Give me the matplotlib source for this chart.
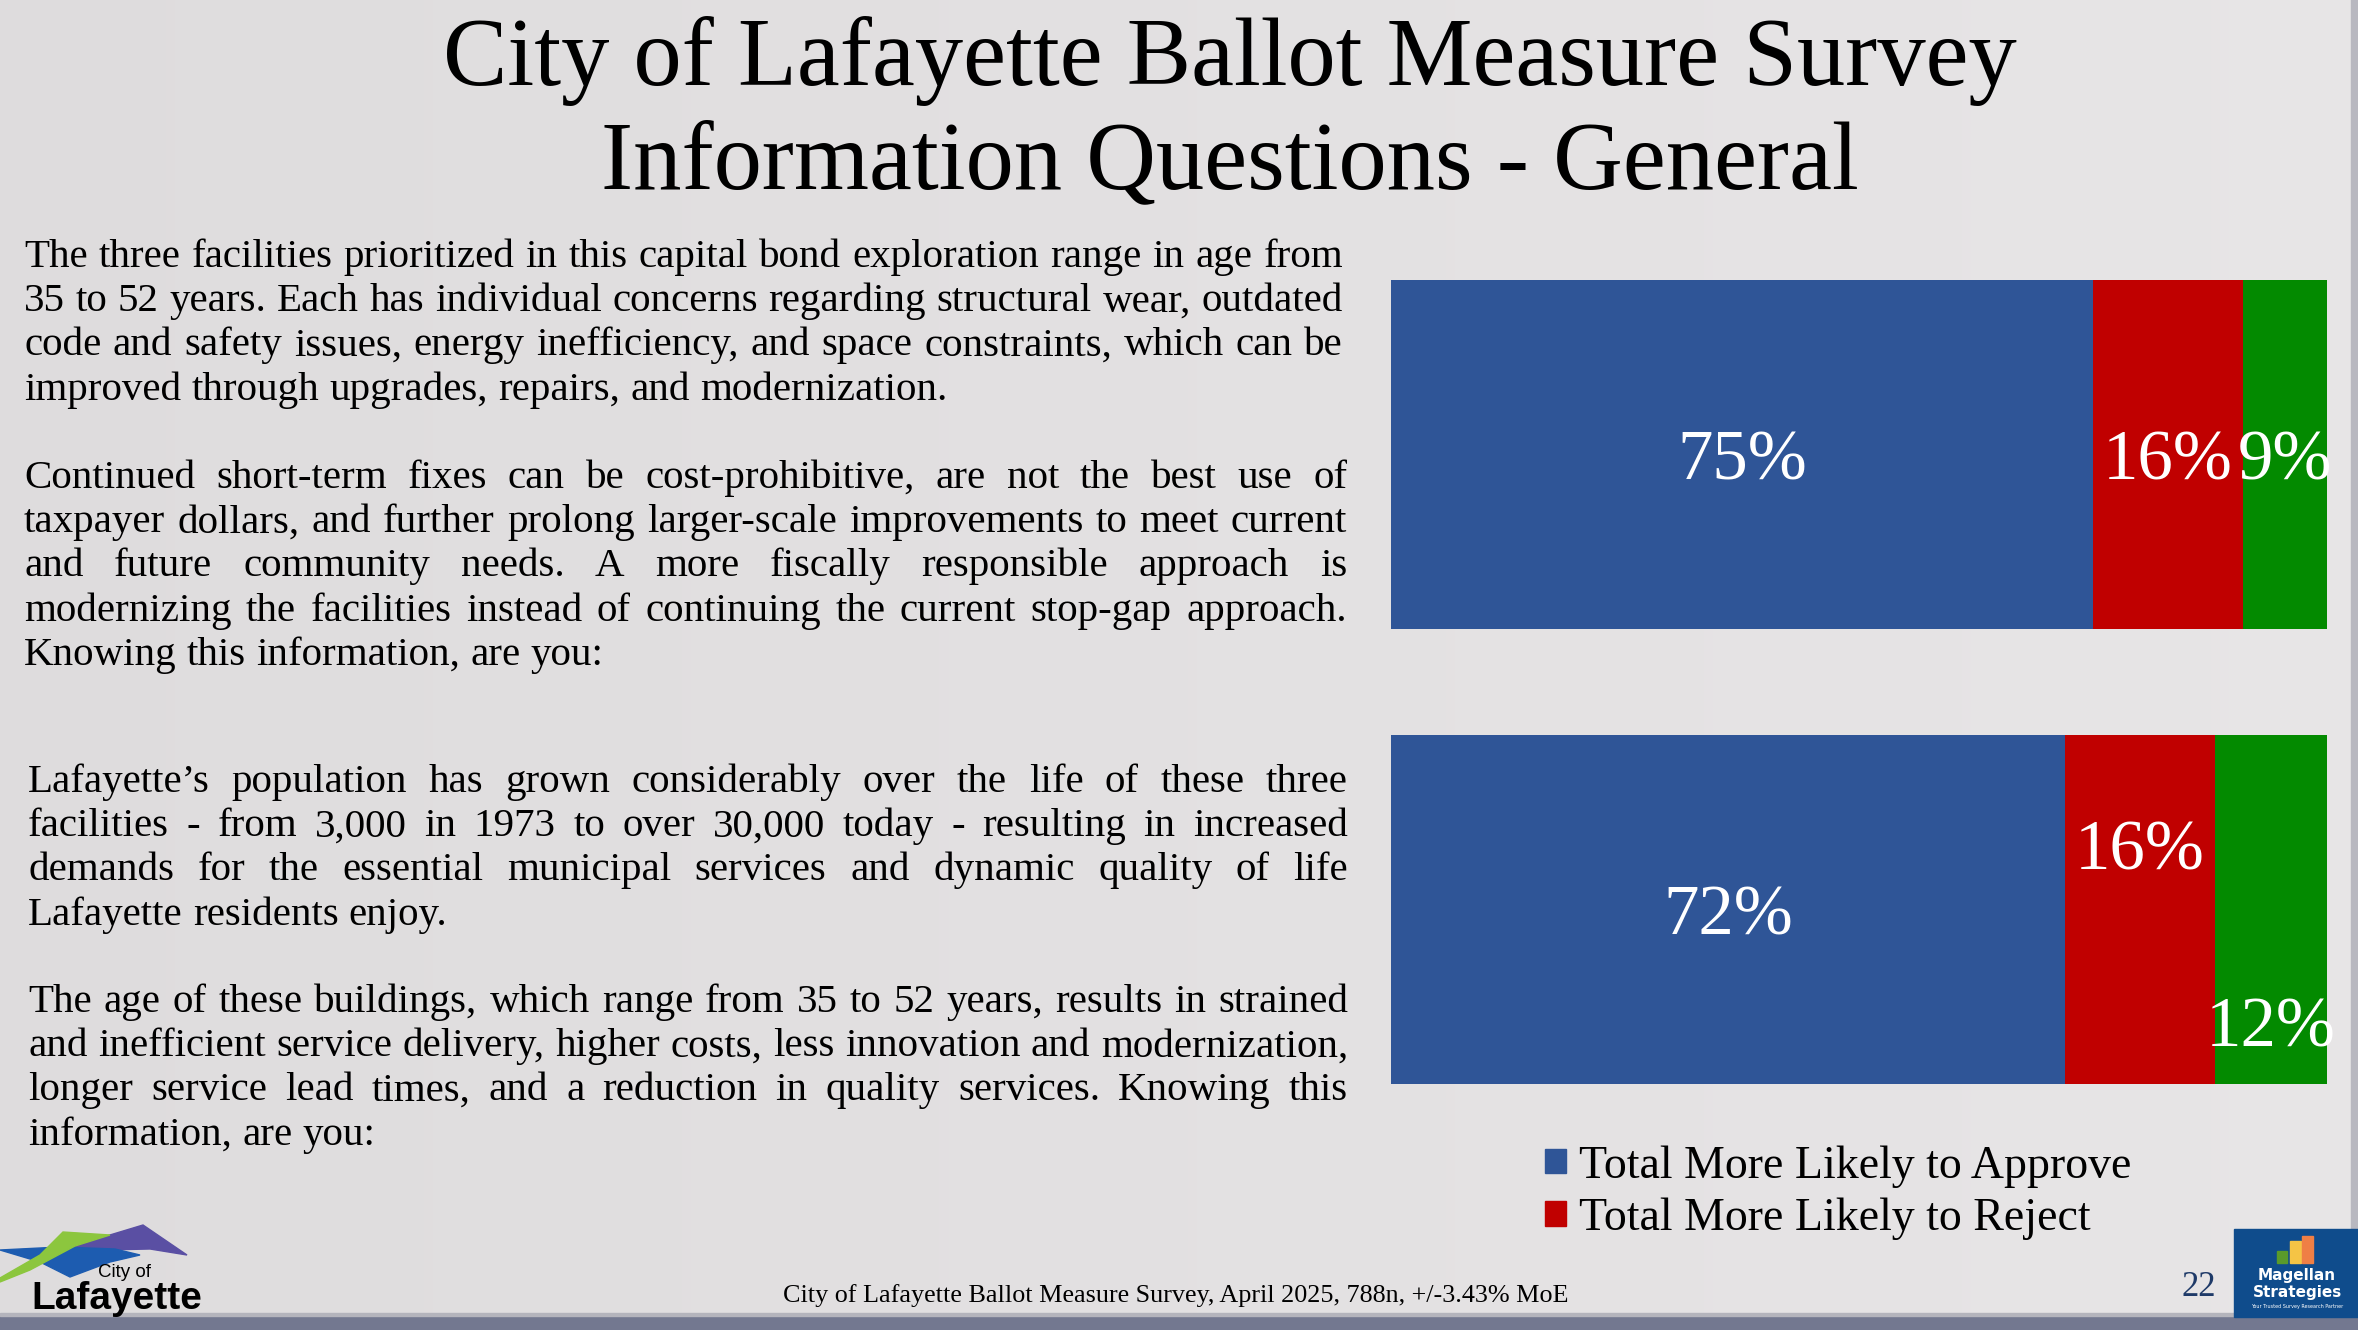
import matplotlib
matplotlib.use('Agg')
import matplotlib.pyplot as plt
from matplotlib.patches import Patch, Rectangle, Polygon
import numpy as np

# ---- data ----
questions = ['Facilities / stop-gap fixes', 'Population growth / building age']
approve = [75, 72]
reject = [16, 16]
neutral = [9, 12]
series_names = ['Total More Likely to Approve', 'Total More Likely to Reject', 'No Difference / Unsure']

title_lines = ['City of Lafayette Ballot Measure Survey',
               'Information Questions - General']

paragraphs = [
    ["The three facilities prioritized in this capital bond exploration range in age from",
     "35 to 52 years. Each has individual concerns regarding structural wear, outdated",
     "code and safety issues, energy inefficiency, and space constraints, which can be",
     "improved through upgrades, repairs, and modernization."],
    ["Continued short-term fixes can be cost-prohibitive, are not the best use of",
     "taxpayer dollars, and further prolong larger-scale improvements to meet current",
     "and future community needs. A more fiscally responsible approach is",
     "modernizing the facilities instead of continuing the current stop-gap approach.",
     "Knowing this information, are you:"],
    ["Lafayette\u2019s population has grown considerably over the life of these three",
     "facilities - from 3,000 in 1973 to over 30,000 today - resulting in increased",
     "demands for the essential municipal services and dynamic quality of life",
     "Lafayette residents enjoy."],
    ["The age of these buildings, which range from 35 to 52 years, results in strained",
     "and inefficient service delivery, higher costs, less innovation and modernization,",
     "longer service lead times, and a reduction in quality services. Knowing this",
     "information, are you:"],
]
footnote = 'City of Lafayette Ballot Measure Survey, April 2025, 788n, +/-3.43% MoE'
page_number = '22'

# ---- layout ----
W, H = 2358, 1330
SERIF = 'Liberation Serif'
BLUE, RED, GREEN = '#2F5597', '#C00000', '#038A00'

fig = plt.figure(figsize=(W / 100, H / 100), dpi=100)


def fx(px):
    return px / W


def fy(py):
    return 1 - py / H


# background
bg = fig.add_axes([0, 0, 1, 1], zorder=-10)
bg.axis('off')
bg.set_xlim(0, 1)
bg.set_ylim(0, 1)
grad = np.linspace(0, 1, 256)
c0 = np.array([0.872, 0.864, 0.868])
c1 = np.array([0.908, 0.900, 0.904])
img = c0[None, :, None] * (1 - grad[None, None, :]) + c1[None, :, None] * grad[None, None, :]
img = np.transpose(img, (0, 2, 1))
bg.imshow(img, extent=[0, 1, 0, 1], aspect='auto', zorder=0)
bg.add_patch(Rectangle((0, 0), 1, 14 / H, color='#737890', zorder=1))
bg.add_patch(Rectangle((0, 14 / H), 1, 3 / H, color='#b4b4bc', zorder=1))
bg.add_patch(Rectangle((fx(2351), 14 / H), 7 / W, 1, color='#b8b8c0', zorder=1))

# title
for ln, base in zip(title_lines, [85, 188]):
    fig.text(fx(1230), fy(base), ln, ha='center', va='baseline',
             fontsize=69.5, family=SERIF, color='black')

# justified body text
renderer = fig.canvas.get_renderer()
body_size = 29.5
space_px = body_size * 100 / 72 * 0.25
para_pos = [(24, 1343, 267), (24, 1347, 488), (28, 1348, 792), (28, 1348, 1012)]
line_step = 44.2
for lines, (x0, x1, y0) in zip(paragraphs, para_pos):
    for i, ln in enumerate(lines):
        words = ln.split()
        texts = [fig.text(0, 0, w, fontsize=body_size, family=SERIF,
                          ha='left', va='baseline') for w in words]
        widths = [t.get_window_extent(renderer).width for t in texts]
        last = (i == len(lines) - 1)
        if last or len(words) == 1:
            gap = space_px
        else:
            gap = (x1 - x0 - sum(widths)) / (len(words) - 1)
        x = x0
        y = y0 + i * line_step
        for t, w in zip(texts, widths):
            t.set_position((fx(x), fy(y)))
            x += w + gap

# bar chart
ax = fig.add_axes([fx(1391), fy(1084), (2327 - 1391) / W, (1084 - 280) / H])
ax.set_facecolor('none')
bar_h = 0.767
ypos = np.arange(len(questions))
approve_a = np.array(approve)
reject_a = np.array(reject)
neutral_a = np.array(neutral)
ax.barh(ypos, approve_a, height=bar_h, color=BLUE, label=series_names[0])
ax.barh(ypos, reject_a, left=approve_a, height=bar_h, color=RED, label=series_names[1])
ax.barh(ypos, neutral_a, left=approve_a + reject_a, height=bar_h, color=GREEN,
        label=series_names[2])
ax.set_xlim(0, 100)
ax.set_ylim(len(questions) - 1 + bar_h / 2, -bar_h / 2)
ax.axis('off')

# label vertical offsets (data units) per segment
label_dy = {'approve': [0, 0], 'reject': [0, -0.142], 'neutral': [0, 0.247]}
for i in range(len(questions)):
    segs = [('approve', 0, approve[i]),
            ('reject', approve[i], reject[i]),
            ('neutral', approve[i] + reject[i], neutral[i])]
    for key, left, v in segs:
        ax.text(left + v / 2, ypos[i] + label_dy[key][i], f'{v}%',
                ha='center', va='center_baseline', fontsize=51,
                family=SERIF, color='white', clip_on=False)

# legend
handles = [Patch(color=BLUE, label=series_names[0]),
           Patch(color=RED, label=series_names[1])]
fig.legend(handles=handles, loc='upper left', bbox_to_anchor=(fx(1545), fy(1145)),
           frameon=False, prop={'family': SERIF, 'size': 33},
           handlelength=0.45, handleheight=0.45, handletextpad=0.3,
           labelspacing=0.22, borderpad=0, borderaxespad=0)

# footer
fig.text(fx(1176), fy(1302), footnote, ha='center', va='baseline',
         fontsize=18.8, family=SERIF, color='black')
fig.text(fx(2199), fy(1296), page_number, ha='center', va='baseline',
         fontsize=25, family=SERIF, color='#1f3a68')


# City of Lafayette logo
def poly(points, color):
    pts = [(fx(px), fy(py)) for px, py in points]
    bg.add_patch(Polygon(pts, closed=True, color=color, zorder=2))


poly([(50, 1247), (100, 1238), (143, 1225), (187, 1255), (150, 1249), (105, 1250)], '#5a4fa3')
poly([(0, 1250), (60, 1247), (115, 1249), (140, 1255), (110, 1262), (70, 1277), (40, 1262)], '#1d5cb0')
poly([(0, 1278), (40, 1255), (63, 1232), (110, 1235), (75, 1246), (30, 1270), (0, 1282)], '#8cc63e')
fig.text(fx(124), fy(1277), 'City of', ha='center', va='baseline', fontsize=13.5,
         family='Liberation Sans', color='black')
fig.text(fx(117), fy(1309), 'Lafayette', ha='center', va='baseline', fontsize=28,
         family='Liberation Sans', fontweight='bold', color='black')

# Magellan Strategies logo
bg.add_patch(Rectangle((fx(2234), fy(1317)), (2358 - 2234) / W, (1317 - 1229) / H,
                       color='#0f4c8c', zorder=2))
for (x0, x1, top), col in zip([(2277, 2287, 1251), (2290, 2301, 1241), (2302, 2313, 1236)],
                              ['#5a9a2a', '#f5c445', '#ef7f45']):
    bg.add_patch(Rectangle((fx(x0), fy(1263)), (x1 - x0) / W, (1263 - top) / H,
                           color=col, zorder=3))
fig.text(fx(2297), fy(1280), 'Magellan', ha='center', va='baseline', fontsize=11,
         family='DejaVu Sans', fontweight='bold', color='white')
fig.text(fx(2297), fy(1297), 'Strategies', ha='center', va='baseline', fontsize=11,
         family='DejaVu Sans', fontweight='bold', color='white')
fig.text(fx(2297), fy(1308), 'Your Trusted Survey Research Partner', ha='center',
         va='baseline', fontsize=3.5, family='DejaVu Sans', color='white')

fig.savefig('out.png', dpi=100)
